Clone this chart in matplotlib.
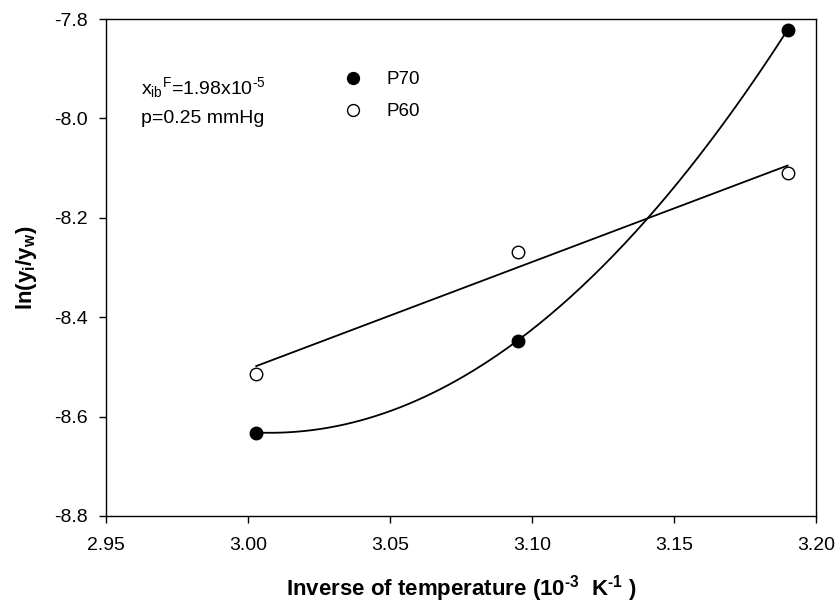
import numpy as np
import matplotlib
matplotlib.use("Agg")
import matplotlib.pyplot as plt

plt.rcParams['font.family'] = ['Liberation Sans', 'DejaVu Sans']
plt.rcParams['mathtext.fontset'] = 'custom'
plt.rcParams['mathtext.rm'] = 'Liberation Sans'
plt.rcParams['mathtext.it'] = 'Liberation Sans'
plt.rcParams['mathtext.bf'] = 'Liberation Sans:bold'
plt.rcParams['mathtext.default'] = 'regular'
plt.rcParams['axes.unicode_minus'] = False

# Data
inv_temp = [3.003, 3.095, 3.190]
p70 = [-8.632, -8.447, -7.822]
p60 = [-8.514, -8.269, -8.110]
series_labels = ["P70", "P60"]
x_ticks = [2.95, 3.00, 3.05, 3.10, 3.15, 3.20]
y_ticks = [-8.8, -8.6, -8.4, -8.2, -8.0, -7.8]

fig = plt.figure(figsize=(8.36, 6.04), dpi=100)
ax = fig.add_axes([0.1264, 0.1457, 0.976 - 0.1264, 0.9685 - 0.1457])

xs = np.array(inv_temp)
xf = np.linspace(xs.min(), xs.max(), 200)
c70 = np.polyfit(xs, p70, 2)
c60 = np.polyfit(xs, p60, 1)
ax.plot(xf, np.polyval(c70, xf), color='black', lw=1.3)
ax.plot(xf, np.polyval(c60, xf), color='black', lw=1.3)

ax.plot(inv_temp, p70, 'o', ms=9, mfc='black', mec='black', label=series_labels[0], zorder=3)
ax.plot(inv_temp, p60, 'o', ms=9, mfc='white', mec='black', mew=1.0, label=series_labels[1], zorder=3)

ax.set_xlim(2.95, 3.20)
ax.set_ylim(-8.8, -7.8)
ax.set_xticks(x_ticks)
ax.set_xticklabels([f"{v:.2f}" for v in x_ticks])
ax.set_yticks(y_ticks)
ax.set_yticklabels([f"{v:.1f}" for v in y_ticks])
ax.tick_params(direction='out', length=5, width=1, labelsize=14, top=False, right=False)
ax.tick_params(axis='x', pad=10)
ax.tick_params(axis='y', pad=8)
for s in ax.spines.values():
    s.set_linewidth(1.0)

ax.set_xlabel('Inverse of temperature (10$^{\\mathbf{\u20103}}$  K$^{\\mathbf{\u20101}}$ )', fontsize=16, fontweight='bold', labelpad=14)
ax.set_ylabel(r'$\mathbf{ln(y_i/y_w)}$', fontsize=16, labelpad=11)

leg = ax.legend(loc='upper left', bbox_to_anchor=(0.335, 0.895), frameon=False, fontsize=13.5,
                handletextpad=1.3, labelspacing=0.8, markerscale=0.95, handlelength=1.0,
                borderaxespad=0, borderpad=0)

ax.text(0.05, 0.862, 'x$_{ib}$$^{F}$=1.98x10$^{\u20105}$', transform=ax.transAxes, fontsize=14, va='center')
ax.text(0.05, 0.80, 'p=0.25 mmHg', transform=ax.transAxes, fontsize=14, va='center')

fig.savefig('out.png', dpi=100)
